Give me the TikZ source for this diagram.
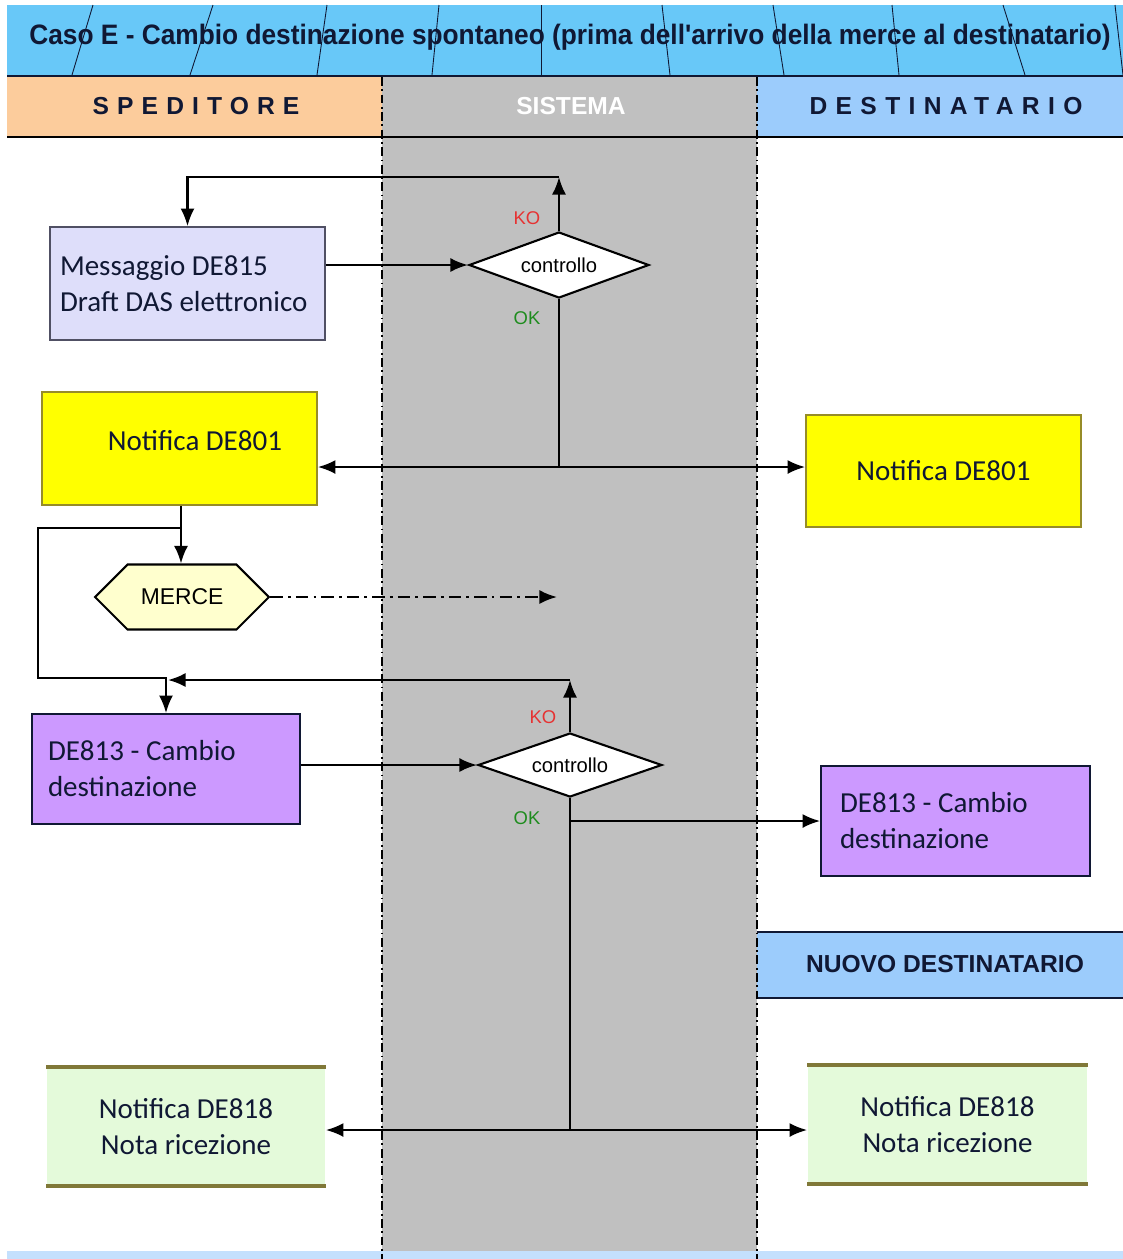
\documentclass[tikz,border=0pt]{standalone}
\usepackage{fontspec}
\setmainfont{Carlito}
\newfontfamily\arialfont{Liberation Sans}
\usetikzlibrary{arrows.meta, positioning, shapes.geometric, shapes.symbols}
\definecolor{titleblue}{RGB}{104,200,248}
\definecolor{spedorange}{RGB}{252,204,156}
\definecolor{lanegray}{RGB}{192,192,192}
\definecolor{destblue}{RGB}{156,204,252}
\definecolor{navy}{RGB}{16,24,52}
\definecolor{lavender}{RGB}{222,222,250}
\definecolor{slate}{RGB}{80,80,100}
\definecolor{notifyellow}{RGB}{255,255,0}
\definecolor{olive}{RGB}{150,140,40}
\definecolor{violet}{RGB}{204,153,255}
\definecolor{mercefill}{RGB}{255,255,206}
\definecolor{paleg}{RGB}{228,250,218}
\definecolor{oliveline}{RGB}{128,120,56}
\definecolor{kored}{RGB}{230,50,50}
\definecolor{okgreen}{RGB}{30,140,30}
\tikzset{>={Latex[length=10pt,width=8pt]},
flow/.style={line width=1.3pt},
lanesep/.style={line width=0.8pt, dash pattern=on 5pt off 2pt on 1pt off 2pt},
box/.style={rectangle, draw, line width=1pt, inner sep=0pt,
  font=\fontsize{16.5}{20.5}\selectfont, text=navy},
check/.style={diamond, aspect=2.7, draw, fill=white, line width=1.2pt, inner sep=0pt,
  minimum width=3.6cm, minimum height=1.32cm, font=\arialfont\fontsize{11.5}{13}\selectfont},
answer/.style={font=\arialfont\fontsize{10.5}{12}\selectfont},
%every node/.style={draw=red},
lanehead/.style={font=\arialfont\bfseries\fontsize{14}{16}\selectfont, text=navy}}

\begin{document}
\begin{tikzpicture}[x=0.02cm, y=-0.02cm]
\useasboundingbox (0,0) rectangle (1123,1259);
% lanes and headers
\fill[lanegray] (382,77) rectangle (757,1259);
\fill[titleblue] (7,5) rectangle (1123,75);
\foreach \a/\b in {93/72, 213/190, 327/317, 439/432, 541/541, 662/670, 773/784, 892/899, 1003/1025, 1115/1123}
  \draw[navy, line width=0.5pt] (\a,5) -- (\b,75);
\fill[spedorange] (7,77) rectangle (382,137);
\fill[destblue] (757,77) rectangle (1123,137);
\fill[destblue] (757,932) rectangle (1123,998);
\fill[destblue!60] (7,1251) rectangle (1123,1259);
\draw[navy, line width=1.6pt] (7,76) -- (1123,76);
\draw[black, line width=1.6pt] (7,137) -- (1123,137);
\draw[navy, line width=1.6pt] (757,932) -- (1123,932) (757,998) -- (1123,998);
\draw[lanesep] (382,77) -- (382,1259);
\draw[lanesep] (757,77) -- (757,1259);
\node[font=\arialfont\bfseries\fontsize{16}{18}\selectfont, text=navy, xscale=0.935] (title) at (570,37)
  {Caso E - Cambio destinazione spontaneo (prima dell'arrivo della merce al destinatario)};
\node[lanehead] (sped) at (196,106) {\addfontfeatures{LetterSpace=33}SPEDITORE};
\node[lanehead, text=white] (sist) at (571,106) {SISTEMA};
\node[lanehead] (dest) at (946,106) {\addfontfeatures{LetterSpace=34}DESTINATARIO};
\node[lanehead] (nuovo) at (945,964) {NUOVO DESTINATARIO};

% process nodes
\node[box, fill=lavender, draw=slate, align=flush left, text width=5.1cm, minimum width=5.5cm, minimum height=2.26cm] (msg) at (187.5,283.5)
  {Messaggio DE815\\Draft DAS elettronico};
\node[check] (ctrl1) at (559,265) {controllo};
\node[answer, text=kored] (ko1lab) at (527,218) {KO};
\node[answer, text=okgreen] (ok1lab) at (527,318) {OK};
\node[box, fill=notifyellow, draw=olive, minimum width=5.5cm, minimum height=2.26cm] (n801l) at (179.5,448.5) {};
\node[font=\fontsize{16.5}{20.5}\selectfont, text=navy] (n801ltxt) at (195,441) {Notifica DE801};
\node[box, fill=notifyellow, draw=olive, minimum width=5.5cm, minimum height=2.24cm] (n801r) at (943.5,471) {Notifica DE801};
\node[signal, signal to=west and east, signal pointer angle=90, draw, fill=mercefill, line width=1.2pt,
  minimum width=3.48cm, minimum height=1.3cm, inner sep=0pt, font=\arialfont\fontsize{13}{15}\selectfont] (merce) at (182,597) {MERCE};
\node[box, fill=violet, draw=navy, align=flush left, text width=4.72cm, minimum width=5.36cm, minimum height=2.2cm] (de813l) at (166,769)
  {DE813 - Cambio\\destinazione};
\node[check, minimum width=3.68cm, minimum height=1.28cm] (ctrl2) at (570,765) {controllo};
\node[answer, text=kored] (ko2lab) at (543,717) {KO};
\node[answer, text=okgreen] (ok2lab) at (527,818) {OK};
\node[box, fill=violet, draw=navy, align=flush left, text width=4.62cm, minimum width=5.38cm, minimum height=2.2cm] (de813r) at (955.5,821)
  {DE813 - Cambio\\destinazione};
\node[box, draw=none, fill=paleg, align=center, minimum width=5.56cm, minimum height=2.34cm] (n818l) at (186,1126.5)
  {Notifica DE818\\Nota ricezione};
\node[box, draw=none, fill=paleg, align=center, minimum width=5.58cm, minimum height=2.34cm] (n818r) at (947.5,1124.5)
  {Notifica DE818\\Nota ricezione};
\draw[oliveline, line width=2.2pt] (n818l.north west) -- (n818l.north east) (n818l.south west) -- (n818l.south east);
\draw[oliveline, line width=2.2pt] (n818r.north west) -- (n818r.north east) (n818r.south west) -- (n818r.south east);

% connectors
\coordinate (ko1) at (559,177);
\coordinate (ok1) at (559,467);
\coordinate (split) at (181,528);
\coordinate (mercend) at (557,597);
\coordinate (ko2) at (570,680);
\coordinate (ko2end) at (168,680);
\coordinate (ok2) at (570,1130);
\draw[flow,->] (msg.east |- ctrl1.west) -- (ctrl1.west);
\draw[flow,->] (ctrl1.north) -- (ko1);
\draw[flow,->] (ko1) -| (msg.north);
\draw[flow] (ctrl1.south) -- (ok1);
\draw[flow,<->] (n801l.east |- ok1) -- (n801r.west |- ok1);
\draw[flow] (n801l.south -| split) -- (split);
\draw[flow,->] (split) -- (merce.north -| split);
\draw[flow,->] (split) -| (38,678) -| (de813l.north);
\draw[flow,->,dash pattern=on 7pt off 3pt on 1.5pt off 3pt] (merce.east) -- (mercend);
\draw[flow,->] (de813l.east |- ctrl2.west) -- (ctrl2.west);
\draw[flow,->] (ctrl2.north) -- (ko2);
\draw[flow,->] (ko2) -- (ko2end);
\draw[flow] (ctrl2.south) -- (ok2);
\draw[flow,->] (ctrl2.south |- de813r.west) -- (de813r.west);
\draw[flow,<->] (n818l.east |- ok2) -- (n818r.west |- ok2);
\end{tikzpicture}
\end{document}
